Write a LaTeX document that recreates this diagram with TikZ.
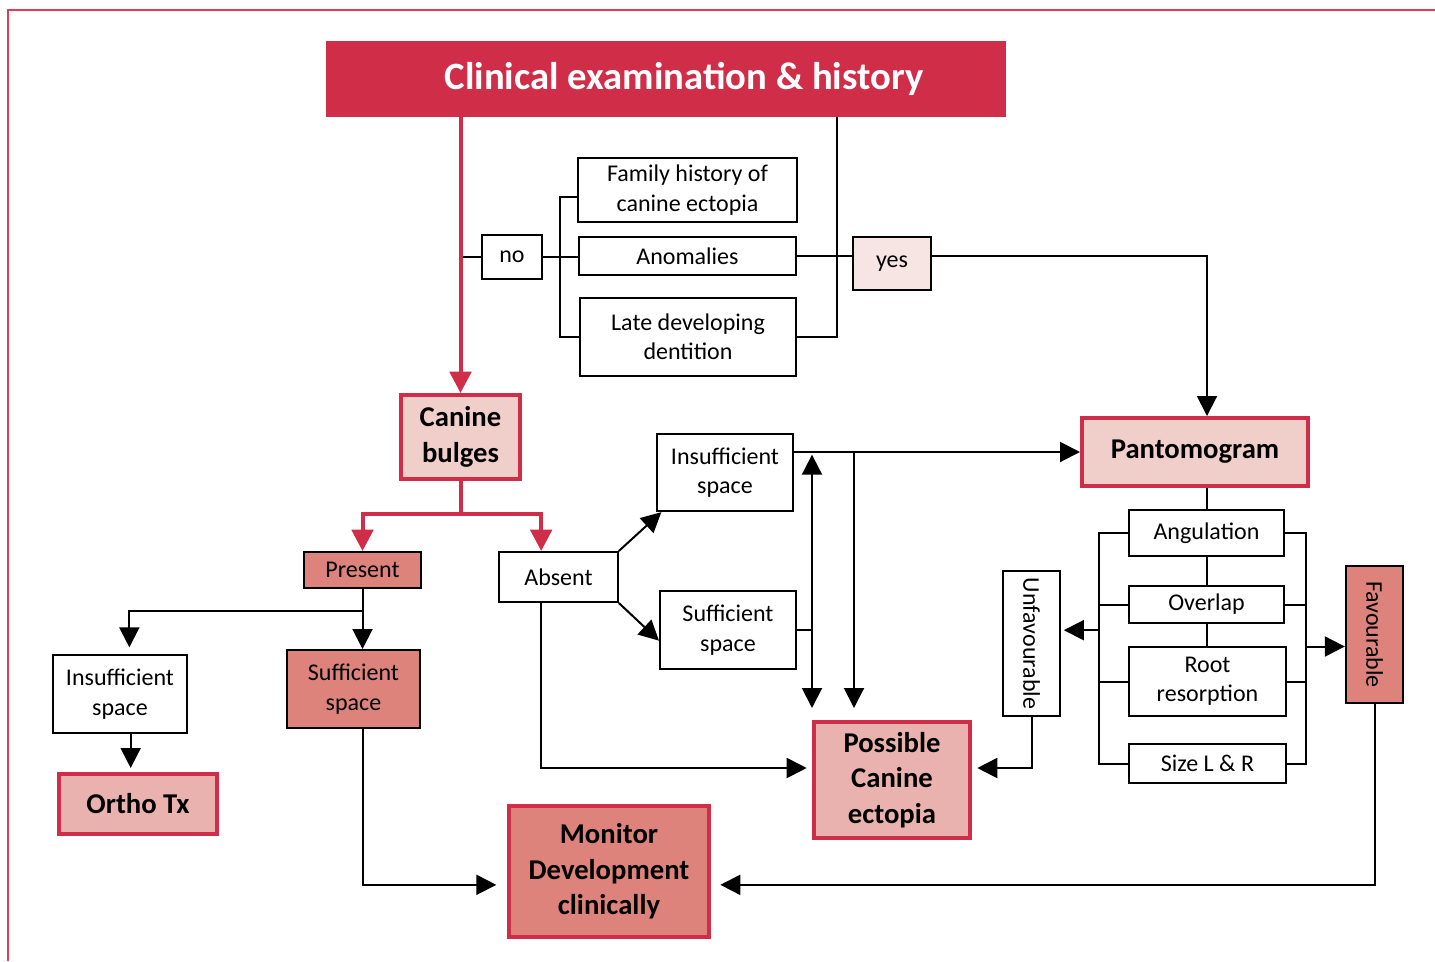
\documentclass[tikz,border=0pt]{standalone}
\usepackage{fontspec}
\setmainfont{Carlito}
\usetikzlibrary{arrows.meta}
\definecolor{crimson}{RGB}{207,45,72}
\definecolor{framered}{RGB}{226,60,90}
\definecolor{rosepink}{RGB}{240,207,203}
\definecolor{blush}{RGB}{233,178,174}
\definecolor{salmonfill}{RGB}{221,131,124}
\definecolor{palepink}{RGB}{247,229,227}

\begin{document}
\begin{tikzpicture}[x=0.75pt,y=0.75pt,yscale=-1,xscale=1,
    box/.style={draw, line width=1.5pt, fill=white, inner sep=0pt, align=center, font=\fontsize{18}{22}\selectfont},
    keybox/.style={draw=crimson, line width=3pt, inner sep=0pt, align=center, font=\fontsize{21.5}{26.5}\selectfont\bfseries},
    conn/.style={line width=1.5pt},
    arr/.style={line width=1.5pt, -{Triangle[length=15pt,width=15pt]}},
    redline/.style={draw=crimson, line width=3pt},
    redarr/.style={redline, -{Triangle[length=16pt,width=16pt]}}]
    \useasboundingbox (0,0) rectangle (1435,961);
    %Frame
    \draw [framered, line width=1pt] (8,961) -- (8,10) -- (1435,10);
    % Title
    \node [fill=crimson, minimum width=510pt, minimum height=57pt, inner sep=0pt, text=white, font=\fontsize{29}{34}\selectfont\bfseries] (title) at (666,79) {\hspace*{27pt}Clinical examination \& history};
    % History boxes
    \node [box, minimum width=164pt, minimum height=48pt] (famhist) at (687.5,190) {Family history of\\canine ectopia};
    \node [box, minimum width=163pt, minimum height=28pt] (anomal) at (687.5,256) {Anomalies};
    \node [box, minimum width=162pt, minimum height=58.5pt] (latedev) at (688,337) {Late developing\\dentition};
    \node [box, line width=2.2pt, minimum width=45pt, minimum height=33pt] (no) at (512,257) {no};
    \node [box, fill=palepink, minimum width=58.5pt, minimum height=40pt] (yes) at (892,263.5) {yes};
    % Key boxes
    \node [keybox, fill=rosepink, minimum width=89pt, minimum height=63pt] (canine) at (460.5,437) {Canine\\bulges};
    \node [keybox, fill=rosepink, minimum width=169.5pt, minimum height=51pt] (panto) at (1195,452) {Pantomogram};
    \node [keybox, fill=blush, minimum width=118.5pt, minimum height=45pt] (ortho) at (138,804) {Ortho Tx};
    \node [keybox, fill=blush, minimum width=117pt, minimum height=87pt] (possible) at (892,780) {Possible\\Canine\\ectopia};
    \node [keybox, fill=salmonfill, minimum width=150pt, minimum height=98pt] (monitor) at (609,871.5) {Monitor\\Development\\clinically};
    % Findings
    \node [box, fill=salmonfill, minimum width=88pt, minimum height=27pt] (present) at (362.5,570) {Present};
    \node [box, minimum width=89pt, minimum height=37.5pt] (absent) at (558.5,577) {Absent};
    \node [box, minimum width=100.5pt, minimum height=58.5pt] (insuffL) at (120,694) {Insufficient\\space};
    \node [box, fill=salmonfill, minimum width=100pt, minimum height=58.5pt] (suffL) at (353.5,689) {Sufficient\\space};
    \node [box, minimum width=102pt, minimum height=58pt] (insuffM) at (725,472.5) {Insufficient\\space};
    \node [box, minimum width=102pt, minimum height=58.5pt] (suffM) at (728,630) {Sufficient\\space};
    % Pantomogram criteria
    \node [box, minimum width=116pt, minimum height=34.5pt] (angul) at (1206.5,533) {Angulation};
    \node [box, minimum width=116pt, minimum height=28pt] (overlap) at (1206.5,604.5) {Overlap};
    \node [box, minimum width=118pt, minimum height=52pt] (rootres) at (1207.5,681.5) {Root\\resorption};
    \node [box, minimum width=118pt, minimum height=29pt] (sizelr) at (1207.5,763.5) {Size L \& R};
    \node [box, rotate=-90, minimum width=109pt, minimum height=43pt] (unfav) at (1031.5,643.5) {Unfavourable};
    \node [box, fill=salmonfill, rotate=-90, minimum width=103pt, minimum height=43pt] (fav) at (1374.5,634.5) {Favourable};

    % History connectors
    \draw [conn] (no.west) -- (no.west -| canine.north);
    \draw [conn] (no.east) -- (no.east -| anomal.west);
    \draw [conn] ([yshift=5pt]famhist.west) -- ++(-17,0) coordinate (bkt) |- (latedev.west);
    \draw [conn] (latedev.east) -- ++(40,0) coordinate (rbkt) -- (rbkt |- title.south);
    \draw [conn] (anomal.east) -- (anomal.east -| yes.west);
    \draw [arr] (yes.east |- anomal.east) -| ([xshift=9pt]panto.north);
    % Red connectors
    \draw [redarr] (canine.north |- title.south) -- (canine.north);
    \draw [redline] (canine.south) -- ++(0,33) coordinate (split);
    \draw [redarr] (split) -| (present.north);
    \draw [redarr] (split) -| ([xshift=-13pt]absent.north);
    % Present branch
    \draw [conn] (present.south) -- ++(0,22) coordinate (pjoin);
    \draw [arr, shorten >=5pt] (pjoin) -| ([xshift=7pt]insuffL.north);
    \draw [arr] (pjoin) -- (pjoin |- suffL.north);
    \draw [arr, shorten >=3pt] ([xshift=8pt]insuffL.south) -- ([xshift=8pt]insuffL.south |- ortho.north);
    \draw [arr, shorten >=8pt] (pjoin |- suffL.south) |- ([yshift=10pt]monitor.west);
    % Absent branch
    \draw [arr] (absent.north east) -- ([xshift=4pt]insuffM.south west);
    \draw [arr] (absent.south east) -- ([yshift=8pt]suffM.west);
    \draw [arr, shorten >=4pt] ([xshift=-13pt]absent.south) |- ([yshift=-9pt]possible.west);
    \draw [arr] (insuffM.east |- panto.west) -- (panto.west);
    \draw [arr, shorten >=9pt] ([xshift=-28.5pt]possible.north |- panto.west) -- ([xshift=-28.5pt]possible.north);
    \draw [conn, {Triangle[length=15pt,width=15pt]}-{Triangle[length=15pt,width=15pt]}, shorten >=9pt, shorten <=2pt] (possible.north west |- panto.west) -- (possible.north west);
    \draw [conn] (suffM.east) -- (suffM.east -| possible.north west);
    % Criteria connectors
    \draw [conn] (angul.north |- panto.south) -- (angul.north);
    \draw [conn] (angul.south) -- (overlap.north);
    \draw [conn] (overlap.south) -- (overlap.south |- rootres.north);
    \draw [conn] (angul.west) -- ++(-29,0) coordinate (lbx) |- (sizelr.west);
    \draw [conn] (overlap.west) -- (overlap.west -| lbx);
    \draw [conn] (rootres.west) -- (rootres.west -| lbx);
    \draw [conn] (angul.east) -- ++(21,0) coordinate (rbx) |- (sizelr.east);
    \draw [conn] (overlap.east) -- (overlap.east -| rbx);
    \draw [conn] (rootres.east) -- (rootres.east -| rbx);
    \coordinate (unfavin) at ([yshift=-10pt]unfav.north);
    \draw [arr, shorten >=2pt] (unfavin -| lbx) -- (unfavin);
    \coordinate (favin) at ([yshift=9pt]fav.south);
    \draw [arr] (favin -| rbx) -- (favin);
    \draw [arr, shorten >=4pt] (unfav.east) |- ([yshift=-9pt]possible.east);
    \draw [arr, shorten >=7pt] (fav.east) |- ([yshift=10pt]monitor.east);
\end{tikzpicture}
\end{document}
